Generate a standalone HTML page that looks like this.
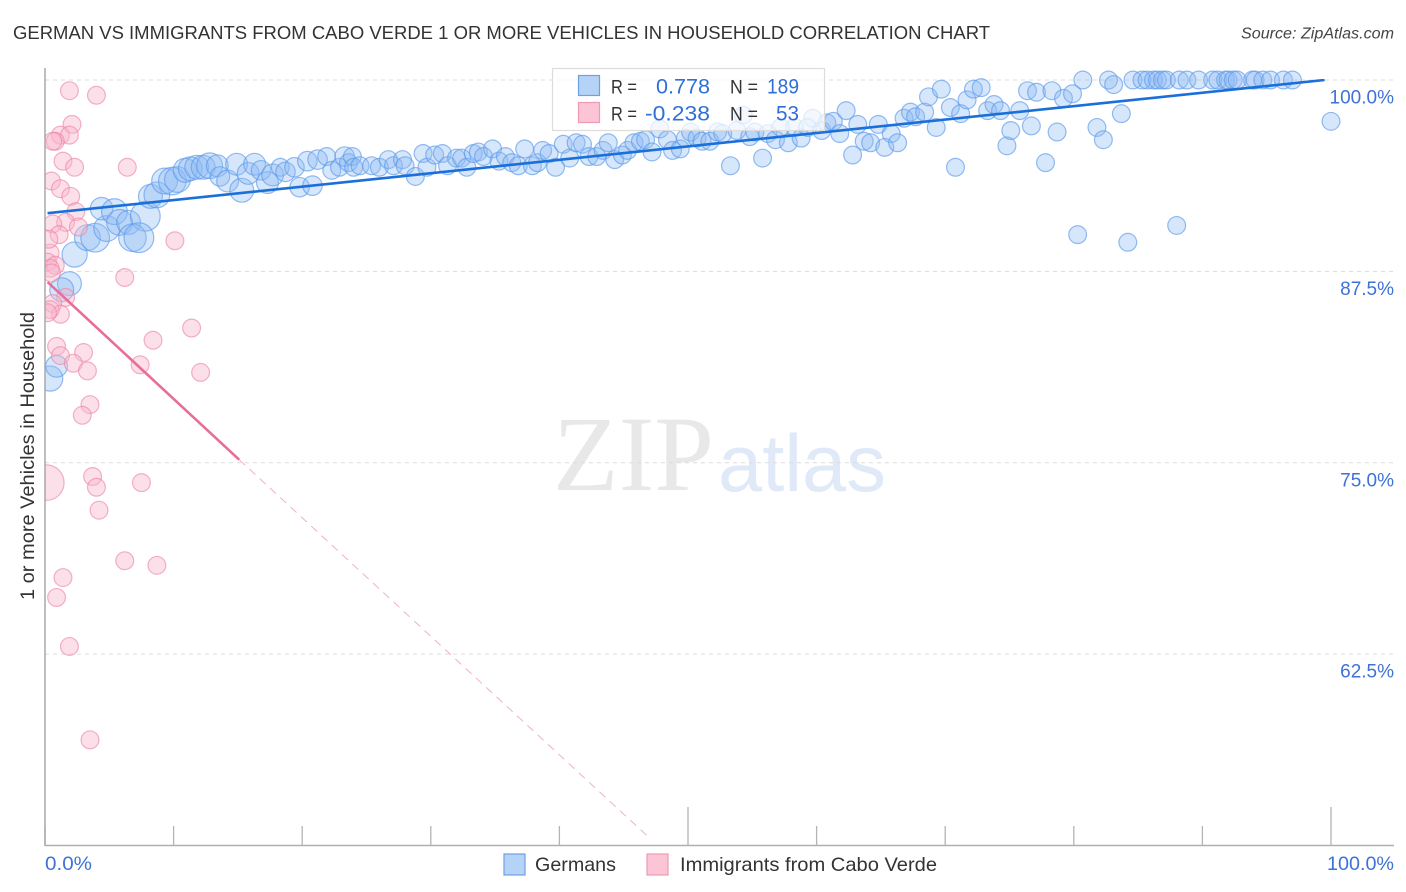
<!DOCTYPE html>
<html lang="en">
<head>
<meta charset="utf-8">
<title>German vs Immigrants from Cabo Verde correlation chart</title>
<style>
html,body{margin:0;padding:0;background:#fff;}
svg{display:block;font-family:"Liberation Sans",sans-serif;}
</style>
</head>
<body>
<svg id="chart" width="1406" height="892" viewBox="0 0 1406 892" xmlns="http://www.w3.org/2000/svg">
  <defs>
    <clipPath id="plot-clip"><rect x="45" y="0" width="1361" height="846"></rect></clipPath>
    <clipPath id="trend-clip"><rect x="45" y="79" width="1361" height="767"></rect></clipPath>
  </defs>
  <rect width="1406" height="892" fill="#fff"></rect>
  <text x="13" y="39" font-size="18.5" fill="#333" textLength="977" lengthAdjust="spacingAndGlyphs">GERMAN VS IMMIGRANTS FROM CABO VERDE 1 OR MORE VEHICLES IN HOUSEHOLD CORRELATION CHART</text>
  <text x="1241" y="38.5" font-size="15.5" font-style="italic" fill="#444" textLength="153" lengthAdjust="spacingAndGlyphs">Source: ZipAtlas.com</text>

  <text x="553" y="490" font-family="'Liberation Serif',serif" font-size="107" fill="#e8e8e8" textLength="161" lengthAdjust="spacingAndGlyphs">ZIP</text>
  <text x="718" y="491" font-size="81" fill="#dfe9f8" textLength="168" lengthAdjust="spacingAndGlyphs">atlas</text>

  <g id="grid"></g>
  <g id="ticks"></g>
  <g id="german-points" clip-path="url(#plot-clip)"></g>
  <g id="cabo-points" clip-path="url(#plot-clip)"></g>
  <g id="trends" clip-path="url(#trend-clip)"></g>

  <line x1="45" y1="68" x2="45" y2="846" stroke="#a8a8a8" stroke-width="1.5"></line>
  <line x1="45" y1="845.5" x2="1394" y2="845.5" stroke="#b0b0b0" stroke-width="1.5"></line>

  <g id="y-labels"></g>
  <text x="45" y="870" font-size="19" fill="#3f72d6" textLength="47" lengthAdjust="spacingAndGlyphs">0.0%</text>
  <text x="1327" y="870" font-size="19" fill="#3f72d6" textLength="67" lengthAdjust="spacingAndGlyphs">100.0%</text>
  <text transform="translate(34,600) rotate(-90)" font-size="19" fill="#333" textLength="288" lengthAdjust="spacingAndGlyphs">1 or more Vehicles in Household</text>

  <g>
    <rect x="552.5" y="68.5" width="272" height="62" fill="#fff" fill-opacity="0.72" stroke="#dcdcdc" stroke-width="1.2"></rect>
    <rect x="578.5" y="75.5" width="21" height="20" fill="#b5d2f7" stroke="#6fa0e2" stroke-width="1.2"></rect>
    <rect x="578.5" y="102.5" width="21" height="20" fill="#fcc5d6" stroke="#f09ab6" stroke-width="1.2"></rect>
    <text x="611" y="93.5" font-size="19" fill="#333" textLength="26" lengthAdjust="spacingAndGlyphs">R =</text>
    <text x="656" y="93.5" font-size="21" fill="#2f6fd8" textLength="54" lengthAdjust="spacingAndGlyphs">0.778</text>
    <text x="730" y="93.5" font-size="19" fill="#333" textLength="28" lengthAdjust="spacingAndGlyphs">N =</text>
    <text x="767" y="93.5" font-size="21" fill="#2f6fd8" textLength="32" lengthAdjust="spacingAndGlyphs">189</text>
    <text x="611" y="120.5" font-size="19" fill="#333" textLength="26" lengthAdjust="spacingAndGlyphs">R =</text>
    <text x="645" y="120.5" font-size="21" fill="#2f6fd8" textLength="65" lengthAdjust="spacingAndGlyphs">-0.238</text>
    <text x="730" y="120.5" font-size="19" fill="#333" textLength="28" lengthAdjust="spacingAndGlyphs">N =</text>
    <text x="776" y="120.5" font-size="21" fill="#2f6fd8" textLength="23" lengthAdjust="spacingAndGlyphs">53</text>
  </g>

  <g>
    <rect x="504" y="854" width="21" height="21" fill="#b5d2f7" stroke="#6fa0e2" stroke-width="1.2"></rect>
    <text x="535" y="871" font-size="19.5" fill="#333" textLength="81" lengthAdjust="spacingAndGlyphs">Germans</text>
    <rect x="647" y="854" width="21" height="21" fill="#fcc5d6" stroke="#f09ab6" stroke-width="1.2"></rect>
    <text x="680" y="871" font-size="19.5" fill="#333" textLength="257" lengthAdjust="spacingAndGlyphs">Immigrants from Cabo Verde</text>
  </g>
</svg>
<script>
const yTicks = [100, 87.5, 75, 62.5];
const yTickLabels = ["100.0%", "87.5%", "75.0%", "62.5%"];
const xTicks = [0, 10, 20, 30, 40, 50, 60, 70, 80, 90, 100];
const germanX = [2.3,1.9,1.3,3.3,3.9,4.8,4.4,5.4,5.8,6.5,7.8,6.8,7.3,8.2,8.7,9.3,9.9,10.3,10.9,11.3,11.8,12.3,12.8,13.4,13.6,14.2,14.9,15.3,15.8,16.3,16.8,17.3,17.7,18.3,18.7,19.4,19.8,20.4,20.8,21.2,21.9,22.3,22.9,23.3,23.6,23.9,24,24.5,25.4,26,26.7,27.1,27.8,28,28.8,29.4,29.7,30.3,30.9,31.3,32,32.4,32.8,33.3,33.7,34.1,34.8,35.3,35.8,36.3,36.8,37.3,37.9,38.3,38.7,39.2,39.7,40.3,40.8,41.3,41.8,42.3,42.9,43.4,43.8,44.3,44.9,45.3,45.8,46.3,46.7,47.2,47.8,48.4,48.8,49.4,49.8,50.2,50.7,51.1,51.7,52.3,52.7,53.3,53.8,54.3,54.8,55.2,55.8,56.2,56.8,57.2,57.8,58.3,58.8,59.7,59.3,60.4,60.8,61.3,61.8,62.3,62.8,63.2,63.7,64.2,64.8,65.3,65.8,66.3,66.8,67.3,67.7,68.4,68.7,69.3,69.7,70.4,70.8,71.2,71.7,72.2,72.8,73.3,73.8,74.3,74.8,75.1,75.8,76.7,76.4,77.1,77.8,78.3,78.7,79.2,79.9,80.7,81.8,82.3,80.3,84.2,88,83.7,82.7,83.1,84.6,85.3,85.7,86.2,86.5,86.9,87.2,88.2,88.8,89.7,90.8,91.2,91.8,92,92.4,92.7,93.9,94.1,94.7,95.3,96.3,97,100,0.4,0.9];
const germanY = [88.6,86.7,86.3,89.7,89.7,90.3,91.6,91.4,90.7,90.7,91.1,89.7,89.7,92.4,92.5,93.4,93.4,93.5,94.1,94.2,94.3,94.3,94.4,94.4,93.7,93.4,94.5,92.8,93.9,94.5,94.1,93.3,93.8,94.3,94,94.3,93,94.7,93.1,94.8,95,94.1,94.3,95,94.6,95,94.3,94.4,94.4,94.3,94.8,94.4,94.8,94.4,93.7,95.2,94.3,95.1,95.2,94.4,94.9,94.9,94.3,95.2,95.3,95,95.5,94.7,95,94.6,94.4,95.5,94.4,94.6,95.4,95.2,94.3,95.8,94.9,95.9,95.8,95,95,95.4,95.9,94.8,95.1,95.4,95.9,96,96.1,95.3,96.8,96.1,95.4,95.5,96.2,96.6,96.2,96,96,96.6,96.5,94.4,96.7,97.7,96.3,96.6,94.9,96.5,96.1,96.9,95.9,96.9,96.2,97.5,96.9,96.7,97.2,97.3,96.5,98,95.1,97.1,96,95.9,97.1,95.6,96.5,95.9,97.5,97.9,97.6,97.9,98.9,96.9,99.4,98.2,94.3,97.8,98.7,99.4,99.5,98,98.4,98,95.7,96.7,98,97,99.3,99.2,94.6,99.3,96.6,98.8,99.1,100,96.9,96.1,89.9,89.4,90.5,97.8,100,99.7,100,100,100,100,100,100,100,100,100,100,100,100,100,100,100,100,100,100,100,100,100,100,97.3,80.5,81.3];
const germanWeight = [
2,1.8,1.8,2.1,2.6,2.1,1.6,2.1,2.1,1.8,
2.8,2.4,2.8,1.8,2.1,2.1,2.4,2.1,1.8,1.8,
1.8,1.8,2.1,1.5,1.2,1.5,1.5,1.8,1.5,1.5,
1.2,1.5,1.5,1,1.2,1.2,1.2,1.2,1.2,1.2,
1,1,1,1.2,1,
1,1,1,1,1,1,1,1,1,1,
1,1,1,1,1,1,1,1,1,1,
1,1,1,1,1,1,1,1,1,1,
1,1,1,1,1,1,1,1,1,1,
1,1,1,1,1,1,1,1,1,1,
1,1,1,1,1,1,1,1,1,1,
1,1,1,1,1,1,1,1,1,1,
1,1,1,1,1,1,1,1,1,1,
1,1,1,1,1,1,1,1,1,1,
1,1,1,1,1,1,1,1,1,1,
1,1,1,1,1,1,1,1,1,1,
1,1,1,1,1,1,1,1,1,1,
1,1,1,1,1,1,1,1,1,1,
1,1,1,1,1,1,1,1,1,1,
1,1,1,1,
2,1.5];
const caboX = [1.9,4,2.1,1.2,1.9,0.8,0.6,1.4,2.3,6.4,0.5,1.2,2,2.4,1.6,0.6,2.6,1.1,10.1,0.4,0.2,0.8,0.4,0.5,6.2,1.6,0.6,1.2,0.4,0.2,11.4,8.4,0.9,3,1.2,2.2,7.4,3.3,12.1,3.5,2.9,3.7,4,7.5,4.2,0.1,6.2,8.7,1.4,0.9,1.9,3.5,0.3];
const caboY = [99.3,99,97.1,96.4,96.4,96,96,94.7,94.3,94.3,93.4,92.9,92.4,91.4,90.7,90.6,90.4,89.9,89.5,88.7,88.1,87.9,87.7,87.4,87.1,85.8,85.4,84.7,85,84.8,83.8,83,82.6,82.2,82,81.5,81.4,81,80.9,78.8,78.1,74.1,73.4,73.7,71.9,73.7,68.6,68.3,67.5,66.2,63,56.9,89.6];
const caboWeight = [1,1,1,1,1,1,1,1,1,1,1,1,1,1,1,1,1,1,1,1,1,1,1,1,1,1,1,1,1,1,1,1,1,1,1,1,1,1,1,1,1,1,1,1,1,4,1,1,1,1,1,1,1];
const germanTrendX = [0.2, 99.5];
const germanTrendY = [91.3, 100];
const caboTrendX = [0.2, 15.1];
const caboTrendY = [86.8, 75.2];
const caboProjectionX = [15.1, 47];
const caboProjectionY = [75.2, 50.5];

const NS = 'http://www.w3.org/2000/svg';
const xScale = v => 45 + v * 12.86;
const yScale = v => 80 + (100 - v) * 15.31;
const rScale = w => 8.9 * Math.sqrt(w);

function make(parentId, tag, attrs) {
  const el = document.createElementNS(NS, tag);
  for (const k in attrs) el.setAttribute(k, attrs[k]);
  document.getElementById(parentId).appendChild(el);
  return el;
}

yTicks.forEach((t, i) => {
  const line = make('grid', 'line', {x1: 45, x2: 1394, y1: yScale(t), y2: yScale(t), stroke: '#dcdcdc', 'stroke-width': 1, 'stroke-dasharray': '4 4'});
  
  
  const label = make('y-labels', 'text', {x: 1394, y: yScale(t) + 23.5, 'font-size': 19, fill: '#3f72d6', 'text-anchor': 'end'});
  label.textContent = yTickLabels[i];
  
  
});

xTicks.forEach(t => {
  const major = t === 50 || t === 100;
  const line = make('ticks', 'line', {x1: xScale(t), x2: xScale(t), y1: major ? 807 : 826, y2: 846, stroke: '#b4b4b4', 'stroke-width': 1.3});
  
  
});

germanX.forEach((x, i) => {
  const c = make('german-points', 'circle', {cx: xScale(x), cy: yScale(germanY[i]), r: rScale(germanWeight[i]), fill: '#8dbaf3', 'fill-opacity': 0.36, stroke: '#5b9aea', 'stroke-opacity': 0.65, 'stroke-width': 1.2});
  
  
});

caboX.forEach((x, i) => {
  const c = make('cabo-points', 'circle', {cx: xScale(x), cy: yScale(caboY[i]), r: rScale(caboWeight[i]), fill: '#f9b4ca', 'fill-opacity': 0.42, stroke: '#ec7ea2', 'stroke-opacity': 0.6, 'stroke-width': 1.2});
  
  
});

const germanTrend = make('trends', 'line', {x1: xScale(germanTrendX[0]), y1: yScale(germanTrendY[0]), x2: xScale(germanTrendX[1]), y2: yScale(germanTrendY[1]), stroke: '#1a6fd9', 'stroke-width': 2.6});



const caboTrend = make('trends', 'line', {x1: xScale(caboTrendX[0]), y1: yScale(caboTrendY[0]), x2: xScale(caboTrendX[1]), y2: yScale(caboTrendY[1]), stroke: '#e86d99', 'stroke-width': 2.6});



const caboProjection = make('trends', 'line', {x1: xScale(caboProjectionX[0]), y1: yScale(caboProjectionY[0]), x2: xScale(caboProjectionX[1]), y2: yScale(caboProjectionY[1]), stroke: '#e86d99', 'stroke-opacity': 0.55, 'stroke-width': 1, 'stroke-dasharray': '8 6'});


</script>
</body>
</html>
